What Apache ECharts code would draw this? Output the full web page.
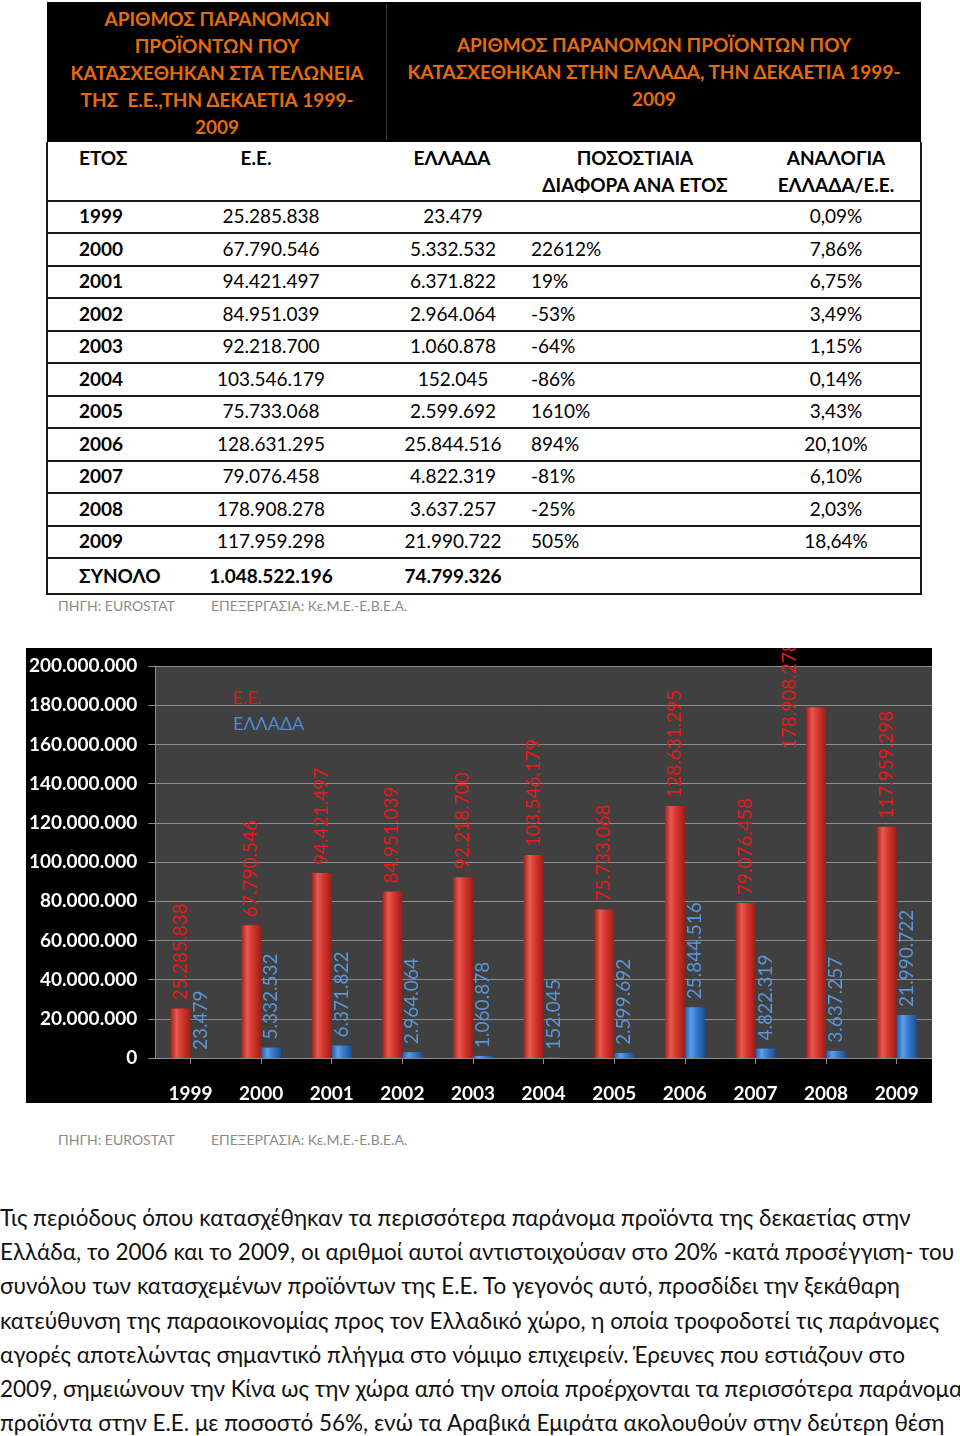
<!DOCTYPE html>
<html><head><meta charset="utf-8">
<script src="https://cdn.jsdelivr.net/npm/echarts@6/dist/echarts.min.js"></script>
<style>
html,body{margin:0;padding:0;background:#fff;}
body{width:960px;height:1436px;position:relative;overflow:hidden;font-family:Lato,'Open Sans',sans-serif;color:#000;}
.t{position:absolute;white-space:pre;line-height:1;}
.c{transform:translate(-50%,-50%);}
.l{transform:translate(0,-50%);}
.ln{position:absolute;background:#1a1a1a;}
.hd{color:#e46c0a;font-weight:bold;font-size:19px;}
.src{color:#8a8a8a;font-size:14px;}
#para{position:absolute;left:0;top:1201px;font-size:22.5px;line-height:34.2px;white-space:pre;color:#111;}
</style></head><body>
<div id="tbl"></div>
<div id="chart" style="position:absolute;left:26px;top:648px;width:906px;height:455px;"></div>
<div id="para"></div>
<script>
// ---- data ----
const years = ['1999','2000','2001','2002','2003','2004','2005','2006','2007','2008','2009'];
const euValues = [25285838, 67790546, 94421497, 84951039, 92218700, 103546179, 75733068, 128631295, 79076458, 178908278, 117959298];
const grValues = [23479, 5332532, 6371822, 2964064, 1060878, 152045, 2599692, 25844516, 4822319, 3637257, 21990722];
const pctDiff = ['', '22612%', '19%', '-53%', '-64%', '-86%', '1610%', '894%', '-81%', '-25%', '505%'];
const ratioGrEu = ['0,09%', '7,86%', '6,75%', '3,49%', '1,15%', '0,14%', '3,43%', '20,10%', '6,10%', '2,03%', '18,64%'];
const euTotal = 1048522196;
const grTotal = 74799326;
const seriesNames = ['Ε.Ε.', 'ΕΛΛΑΔΑ'];
const yTicks = [0, 20000000, 40000000, 60000000, 80000000, 100000000, 120000000, 140000000, 160000000, 180000000, 200000000];
const headLeft = ['ΑΡΙΘΜΟΣ ΠΑΡΑΝΟΜΩΝ', 'ΠΡΟΪΟΝΤΩΝ ΠΟΥ', 'ΚΑΤΑΣΧΕΘΗΚΑΝ ΣΤΑ ΤΕΛΩΝΕΙΑ', 'ΤΗΣ  Ε.Ε.,ΤΗΝ ΔΕΚΑΕΤΙΑ 1999-', '2009'];
const headRight = ['ΑΡΙΘΜΟΣ ΠΑΡΑΝΟΜΩΝ ΠΡΟΪΟΝΤΩΝ ΠΟΥ', 'ΚΑΤΑΣΧΕΘΗΚΑΝ ΣΤΗΝ ΕΛΛΑΔΑ, ΤΗΝ ΔΕΚΑΕΤΙΑ 1999-', '2009'];
const paragraph = [
 'Τις περιόδους όπου κατασχέθηκαν τα περισσότερα παράνομα προϊόντα της δεκαετίας στην',
 'Ελλάδα, το 2006 και το 2009, οι αριθμοί αυτοί αντιστοιχούσαν στο 20% -κατά προσέγγιση- του',
 'συνόλου των κατασχεμένων προϊόντων της Ε.Ε. Το γεγονός αυτό, προσδίδει την ξεκάθαρη',
 'κατεύθυνση της παραοικονομίας προς τον Ελλαδικό χώρο, η οποία τροφοδοτεί τις παράνομες',
 'αγορές αποτελώντας σημαντικό πλήγμα στο νόμιμο επιχειρείν. Έρευνες που εστιάζουν στο',
 '2009, σημειώνουν την Κίνα ως την χώρα από την οποία προέρχονται τα περισσότερα παράνομα',
 'προϊόντα στην Ε.Ε. με ποσοστό 56%, ενώ τα Αραβικά Εμιράτα ακολουθούν στην δεύτερη θέση'
];

function fmt(v){ return String(v).replace(/\B(?=(\d{3})+(?!\d))/g, '.'); }

// ---- table ----
const tbl = document.getElementById('tbl');
function txt(s, x, y, cls, style){
  const d = document.createElement('div');
  d.className = 't ' + cls;
  d.textContent = s;
  d.style.left = x + 'px'; d.style.top = y + 'px';
  if (style) Object.assign(d.style, style);
  tbl.appendChild(d); return d;
}
function line(x, y, w, h, color){
  const d = document.createElement('div');
  d.className = 'ln';
  Object.assign(d.style, {left:x+'px', top:y+'px', width:w+'px', height:h+'px'});
  if (color) d.style.background = color;
  tbl.appendChild(d);
}
// black header
line(47, 2, 874, 140, '#000');
line(386, 4, 1, 136, '#333');
headLeft.forEach((s,i)=> txt(s, 217, 18 + i*27, 'c hd'));
headRight.forEach((s,i)=> txt(s, 654, 44 + i*27, 'c hd'));
// column headers
const bh = {fontWeight:'bold', fontSize:'19px'};
txt('ΕΤΟΣ', 79, 157, 'l', bh);
txt('Ε.Ε.', 256, 157, 'c', bh);
txt('ΕΛΛΑΔΑ', 452, 157, 'c', bh);
txt('ΠΟΣΟΣΤΙΑΙΑ', 635, 157, 'c', bh);
txt('ΔΙΑΦΟΡΑ ΑΝΑ ΕΤΟΣ', 635, 184, 'c', bh);
txt('ΑΝΑΛΟΓΙΑ', 836, 157, 'c', bh);
txt('ΕΛΛΑΔΑ/Ε.Ε.', 836, 184, 'c', bh);
// rows
const rowTop = 200, rowH = 32.5;
years.forEach((y,i)=>{
  const cy = rowTop + i*rowH + 15;
  line(47, rowTop + i*rowH - 0.5, 874, 2);
  txt(y, 79, cy, 'l', {fontWeight:'bold', fontSize:'19px'});
  txt(fmt(euValues[i]), 271, cy, 'c', {fontSize:'19px'});
  txt(fmt(grValues[i]), 453, cy, 'c', {fontSize:'19px'});
  txt(pctDiff[i], 531, cy, 'l', {fontSize:'19px'});
  txt(ratioGrEu[i], 836, cy, 'c', {fontSize:'19px'});
});
const totTop = rowTop + years.length*rowH;
line(47, totTop - 0.5, 874, 2);
txt('ΣΥΝΟΛΟ', 79, totTop + 17, 'l', {fontWeight:'bold', fontSize:'19px'});
txt(fmt(euTotal), 271, totTop + 17, 'c', {fontWeight:'bold', fontSize:'19px'});
txt(fmt(grTotal), 453, totTop + 17, 'c', {fontWeight:'bold', fontSize:'19px'});
line(47, totTop + 35, 874, 2);
line(46, 142, 2, totTop + 37 - 142);
line(920, 142, 2, totTop + 37 - 142);
// sources
[606, 1140].forEach(y=>{
  txt('ΠΗΓΗ: EUROSTAT', 58, y, 'l src');
  txt('ΕΠΕΞΕΡΓΑΣΙΑ: Κε.Μ.Ε.-Ε.Β.Ε.Α.', 211, y, 'l src');
});
document.getElementById('para').textContent = paragraph.join('\n');

// ---- chart ----
const chart = echarts.init(document.getElementById('chart'), null, {renderer:'canvas'});
const redGrad = new echarts.graphic.LinearGradient(0,0,1,0,[
  {offset:0,color:'#a3211c'},{offset:0.3,color:'#e65a50'},{offset:0.55,color:'#d8392f'},{offset:1,color:'#9c1d18'}]);
const blueGrad = new echarts.graphic.LinearGradient(0,0,1,0,[
  {offset:0,color:'#1d5aa6'},{offset:0.3,color:'#5c9fe6'},{offset:0.55,color:'#3a7fd0'},{offset:1,color:'#1a4f94'}]);
const lblBase = {show:true, position:'top', distance:8, rotate:90, align:'left', verticalAlign:'middle',
  fontFamily:'Lato, "Open Sans", sans-serif', fontSize:19, formatter:p=>fmt(p.value)};
const maxY = yTicks[yTicks.length-1];
const euData = euValues.map(v => v > maxY*0.85 ? {value:v, label:{position:[-16,42]}} : v);
chart.setOption({
  backgroundColor:'#000',
  animation:false,
  textStyle:{fontFamily:'Lato, "Open Sans", sans-serif'},
  legend:{
    orient:'vertical', left:197, top:36, itemWidth:0, itemHeight:0, itemGap:8, icon:'rect',
    data:[{name:seriesNames[0], textStyle:{color:'#e01b1b'}},{name:seriesNames[1], textStyle:{color:'#4f8ad6'}}],
    textStyle:{fontSize:18}
  },
  grid:{left:127, top:18, right:0, bottom:39, show:true, backgroundColor:'#404040', borderWidth:0},
  xAxis:{type:'category', data:years,
    axisLine:{show:true, lineStyle:{color:'#8c8c8c', width:1}},
    axisTick:{show:true, alignWithLabel:true, length:6, lineStyle:{color:'#8c8c8c'}},
    axisLabel:{color:'#fff', fontWeight:'bold', fontSize:19, margin:26}},
  yAxis:{type:'value', min:yTicks[0], max:maxY, interval:yTicks[1]-yTicks[0],
    axisLine:{show:true, lineStyle:{color:'#8c8c8c'}},
    axisTick:{show:true, length:7, lineStyle:{color:'#8c8c8c'}},
    splitLine:{lineStyle:{color:'#8c8c8c', width:1}},
    axisLabel:{color:'#fff', fontWeight:'bold', fontSize:19, margin:18, formatter:v=>fmt(v)}},
  series:[
    {name:seriesNames[0], type:'bar', data:euData, barWidth:20, barGap:'0%',
     itemStyle:{color:redGrad}, label:Object.assign({}, lblBase, {color:'#ef1a1a'})},
    {name:seriesNames[1], type:'bar', data:grValues, barWidth:20,
     itemStyle:{color:blueGrad}, label:Object.assign({}, lblBase, {color:'#5b95da'})}
  ]
});
</script>
</body></html>
